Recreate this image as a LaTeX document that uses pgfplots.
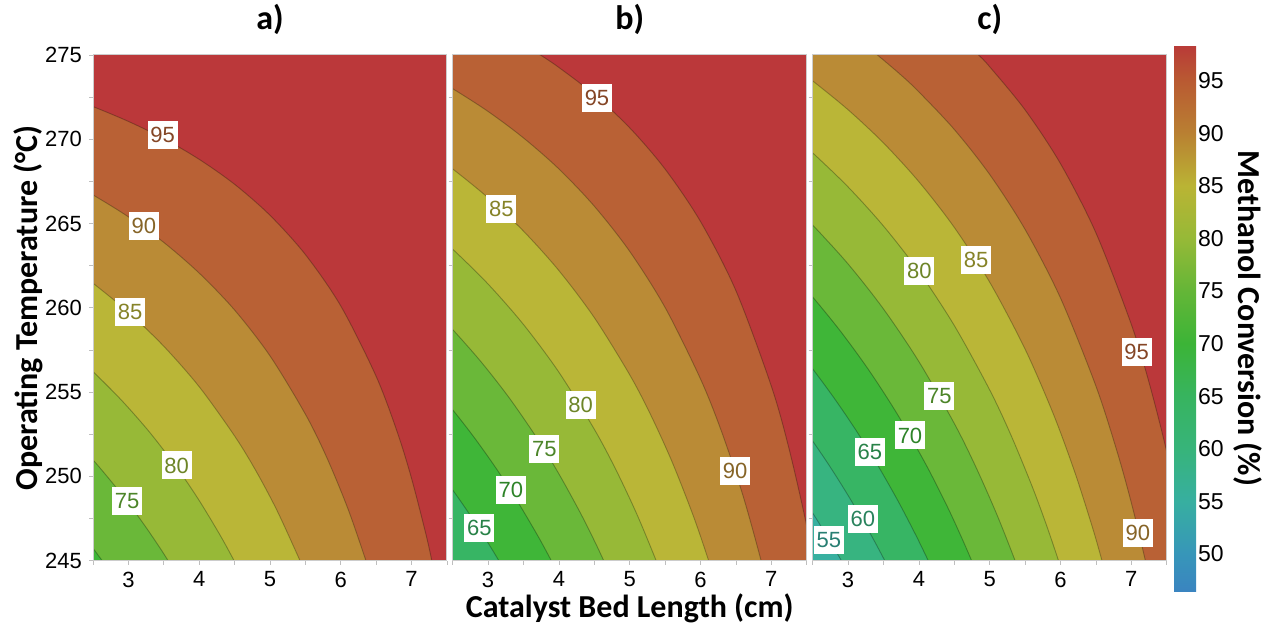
\documentclass[border=0pt]{standalone}
\usepackage{pgfplots}
\pgfplotsset{compat=1.18}
\usepackage{fontspec}
\setmainfont{Liberation Sans}
\newfontfamily\carlito{Carlito}

% band colours (lower level of each band)
\definecolor{c95}{RGB}{187,56,58}
\definecolor{c90}{RGB}{185,97,53}
\definecolor{c85}{RGB}{186,139,54}
\definecolor{c80}{RGB}{186,182,55}
\definecolor{c75}{RGB}{151,185,55}
\definecolor{c70}{RGB}{106,184,57}
\definecolor{c65}{RGB}{63,182,56}
\definecolor{c60}{RGB}{55,181,100}
\definecolor{c55}{RGB}{55,180,128}
\definecolor{c50}{RGB}{56,176,160}

\newcommand{\labfont}{\carlito\bfseries\fontsize{16}{19}\selectfont}

\pgfplotsset{
  colormap={conv}{
    rgb255(46.4pt)=(58,132,192) rgb255(50pt)=(55,150,185) rgb255(55pt)=(55,175,160)
    rgb255(60pt)=(55,180,122) rgb255(65pt)=(55,180,95) rgb255(70pt)=(60,180,55)
    rgb255(75pt)=(100,182,55) rgb255(80pt)=(150,185,55) rgb255(85pt)=(186,180,52)
    rgb255(90pt)=(185,128,50) rgb255(95pt)=(185,90,50) rgb255(98.4pt)=(185,58,56)
  },
  panel/.style={
    scale only axis, width=177pt, height=252.85pt, anchor=south west,
    xmin=2.5, xmax=7.5, ymin=245, ymax=275,
    xtick={3,4,5,6,7}, ytick={245,250,...,275},
    minor xtick={2.5,3.5,...,7.5}, minor ytick={247.5,252.5,...,272.5},
    tick align=outside, xtick pos=bottom, ytick pos=left,
    major tick length=2pt, minor tick length=2pt,
    every tick/.style={gray!50, line width=0.4pt},
    axis line style={gray!40, line width=0.5pt},
    axis background/.style={fill=c95},
    axis on top,
    tick label style={font=\fontsize{11}{13}\selectfont},
    /pgf/number format/assume math mode=true,
    title style={font=\carlito\bfseries\fontsize{17}{20}\selectfont,
      at={(axis description cs:0.5,1)}, anchor=base, yshift=6.5pt},
  },
  band/.style={fill=#1, draw=black, draw opacity=0.28, line width=0.45pt, smooth, mark=none},
}
\tikzset{
  clab/.style={fill=white, inner xsep=1.4pt, inner ysep=0pt, minimum height=14pt,
    text=#1!72!black, font=\fontsize{11}{13}\selectfont},
}

\begin{document}
\begin{tikzpicture}
\useasboundingbox (0,0) rectangle (631pt,312.5pt);

% ---------------- a) ----------------
\begin{axis}[panel, at={(46.5pt,32.15pt)}, title={a)},
  ylabel={Operating Temperature (°C)},
  ylabel style={font=\labfont, at={(axis description cs:-0.1554,0.5)}, anchor=base},
]
\addplot[band=c90] coordinates {(2.2,272.40) (2.5,271.94) (3.0,271.06) (3.5,270.04) (4.0,268.81)
  (4.5,267.33) (5.0,265.49) (5.5,263.16) (6.0,260.11) (6.5,255.93) (6.8,252.60) (7.0,249.87)
  (7.2,246.61) (7.286,245.0) (7.35,243.72)} \closedcycle;
\addplot[band=c85] coordinates {(2.2,267.39) (2.5,266.70) (3.0,265.40) (3.5,263.88) (4.0,262.06)
  (4.5,259.87) (5.0,257.15) (5.5,253.69) (5.8,251.14) (6.1,248.09) (6.355,245.0) (6.45,243.70)} \closedcycle;
\addplot[band=c80] coordinates {(2.2,262.37) (2.5,261.46) (3.0,259.74) (3.5,257.72) (4.0,255.32)
  (4.5,252.40) (4.8,250.34) (5.1,247.97) (5.424,245.0) (5.5,244.22)} \closedcycle;
\addplot[band=c75] coordinates {(2.2,257.39) (2.5,256.22) (2.9,254.53) (3.3,252.62) (3.7,250.43)
  (4.0,248.57) (4.3,246.48) (4.493,245.0) (4.6,244.12)} \closedcycle;
\addplot[band=c70] coordinates {(2.2,252.34) (2.5,250.98) (2.75,249.74) (3.0,248.42) (3.25,246.97)
  (3.45,245.73) (3.561,245.0) (3.7,244.05)} \closedcycle;
\addplot[band=c65] coordinates {(2.2,247.32) (2.5,245.73) (2.57,245.34) (2.63,245.0) (2.75,244.30)} \closedcycle;
\node[clab=c90] at (axis cs:3.483,270.25) {95};
\node[clab=c85] at (axis cs:3.217,264.84) {90};
\node[clab=c80] at (axis cs:3.023,259.74) {85};
\node[clab=c75] at (axis cs:3.681,250.65) {80};
\node[clab=c70] at (axis cs:2.981,248.55) {75};
\end{axis}

% ---------------- b) ----------------
\begin{axis}[panel, at={(226.35pt,32.15pt)}, title={b)},
  ymajorticks=false, yminorticks=false,
  xlabel={Catalyst Bed Length (cm)},
  xlabel style={font=\labfont, at={(axis description cs:0.5,-0.1115)}, anchor=base},
]
\addplot[band=c90] coordinates {(2.0,281.0) (3.5,275.62) (3.739,275.0) (4.0,274.26) (4.5,272.65)
  (5.0,270.68) (5.5,268.23) (6.0,265.12) (6.5,261.02) (7.0,255.36) (7.25,251.65) (7.5,247.06)
  (7.7,242.55)} \closedcycle;
\addplot[band=c85] coordinates {(2.2,273.72) (2.5,273.0) (3.0,271.65) (3.5,270.08) (4.0,268.24)
  (4.5,266.03) (5.0,263.35) (5.5,260.02) (6.0,255.78) (6.3,252.63) (6.6,248.86) (6.856,245.0)
  (7.0,242.49)} \closedcycle;
\addplot[band=c80] coordinates {(2.2,269.15) (2.5,268.24) (3.0,266.53) (3.5,264.55) (4.0,262.21)
  (4.5,259.42) (5.0,256.03) (5.3,253.62) (5.6,250.85) (5.9,247.64) (6.115,245.0) (6.25,243.17)} \closedcycle;
\addplot[band=c75] coordinates {(2.2,264.58) (2.5,263.48) (3.0,261.41) (3.5,259.01) (4.0,256.18)
  (4.5,252.80) (4.8,250.44) (5.1,247.77) (5.374,245.0) (5.5,243.60)} \closedcycle;
\addplot[band=c70] coordinates {(2.2,260.01) (2.5,258.71) (2.9,256.80) (3.3,254.65) (3.7,252.21)
  (4.0,250.15) (4.3,247.86) (4.5,246.19) (4.633,245.0) (4.8,243.42)} \closedcycle;
\addplot[band=c65] coordinates {(2.2,255.44) (2.5,253.95) (2.8,252.33) (3.1,250.56) (3.4,248.62)
  (3.7,246.49) (3.893,245.0) (4.05,243.71)} \closedcycle;
\addplot[band=c60] coordinates {(2.2,250.87) (2.5,249.19) (2.7,247.99) (2.9,246.72) (3.05,245.71)
  (3.152,245.0) (3.3,243.93)} \closedcycle;
\node[clab=c90] at (axis cs:4.538,272.47) {95};
\node[clab=c85] at (axis cs:6.489,250.35) {90};
\node[clab=c80] at (axis cs:3.186,265.87) {85};
\node[clab=c75] at (axis cs:4.308,254.22) {80};
\node[clab=c70] at (axis cs:3.794,251.61) {75};
\node[clab=c65] at (axis cs:3.322,249.22) {70};
\node[clab=c60] at (axis cs:2.875,246.92) {65};
\end{axis}

% ---------------- c) ----------------
\begin{axis}[panel, at={(406.35pt,32.15pt)}, title={c)},
  ymajorticks=false, yminorticks=false,
  colorbar, colormap name=conv, point meta min=46.4, point meta max=98.4,
  colorbar style={
    at={(parent axis.south east)}, anchor=south west, xshift=-4.85pt, yshift=-15.5pt,
    scale only axis, width=11pt, height=273.35pt,
    ytick={50,55,...,95}, major tick length=0pt,
    axis line style={draw=none},
    yticklabel style={font=\fontsize{11.5}{13}\selectfont, xshift=-2.5pt},
    /pgf/number format/assume math mode=true,
    ylabel={Methanol Conversion (\%)},
    ylabel style={font=\labfont, at={(axis description cs:2.93,0.5)}, anchor=base,
      rotate=180, inner sep=0pt},
  },
]
\addplot[band=c90] coordinates {(2.0,281.0) (4.6,276.01) (4.843,275.0) (5.0,274.30) (5.5,271.74)
  (6.0,268.55) (6.5,264.45) (7.0,259.02) (7.25,255.58) (7.5,251.46) (7.75,246.44)} \closedcycle;
\addplot[band=c85] coordinates {(2.0,281.0) (3.2,275.71) (3.414,275.0) (3.75,273.80) (4.0,272.81)
  (4.5,270.58) (5.0,267.91) (5.5,264.65) (6.0,260.58) (6.5,255.36) (6.8,251.46) (7.0,248.44)
  (7.199,245.0) (7.35,242.07)} \closedcycle;
\addplot[band=c80] coordinates {(2.2,274.38) (2.5,273.46) (3.0,271.75) (3.5,269.78) (4.0,267.48)
  (4.5,264.77) (5.0,261.52) (5.5,257.55) (5.9,253.69) (6.2,250.27) (6.45,246.99) (6.586,245.0)
  (6.7,243.21)} \closedcycle;
\addplot[band=c75] coordinates {(2.2,270.27) (2.5,269.19) (3.0,267.17) (3.5,264.85) (4.0,262.15)
  (4.5,258.95) (5.0,255.13) (5.3,252.45) (5.6,249.40) (5.8,247.13) (5.972,245.0) (6.1,243.30)} \closedcycle;
\addplot[band=c70] coordinates {(2.2,266.16) (2.5,264.91) (3.0,262.60) (3.5,259.93) (4.0,256.81)
  (4.5,253.14) (4.8,250.60) (5.1,247.75) (5.359,245.0) (5.5,243.37)} \closedcycle;
\addplot[band=c65] coordinates {(2.2,262.05) (2.5,260.64) (2.9,258.57) (3.3,256.26) (3.7,253.66)
  (4.1,250.70) (4.4,248.22) (4.6,246.40) (4.745,245.0) (4.9,243.42)} \closedcycle;
\addplot[band=c60] coordinates {(2.2,257.94) (2.5,256.37) (2.8,254.66) (3.1,252.81) (3.4,250.79)
  (3.7,248.58) (3.95,246.57) (4.132,245.0) (4.3,243.46)} \closedcycle;
\addplot[band=c55] coordinates {(2.2,253.83) (2.5,252.09) (2.75,250.54) (3.0,248.87) (3.25,247.08)
  (3.4,245.94) (3.518,245.0) (3.65,243.92)} \closedcycle;
\addplot[band=c50] coordinates {(2.2,249.72) (2.5,247.82) (2.65,246.81) (2.8,245.76) (2.905,245.0)
  (3.05,243.91)} \closedcycle;
\node[clab=c90] at (axis cs:7.076,257.37) {95};
\node[clab=c85] at (axis cs:7.093,246.65) {90};
\node[clab=c80] at (axis cs:4.807,262.82) {85};
\node[clab=c75] at (axis cs:4.006,262.17) {80};
\node[clab=c70] at (axis cs:4.289,254.76) {75};
\node[clab=c65] at (axis cs:3.874,252.43) {70};
\node[clab=c60] at (axis cs:3.308,251.45) {65};
\node[clab=c55] at (axis cs:3.207,247.49) {60};
\node[clab=c50] at (axis cs:2.728,246.25) {55};
\end{axis}
\end{tikzpicture}
\end{document}
